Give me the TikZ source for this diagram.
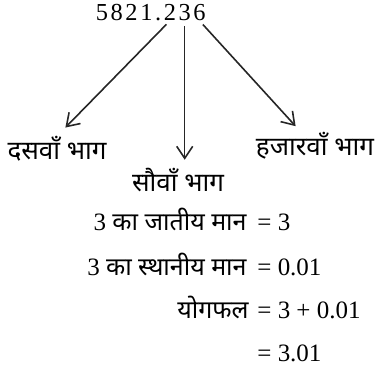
\documentclass[tikz,border=0pt]{standalone}
\usepackage{fontspec}
\setmainfont{Liberation Serif}
\newfontfamily\deva[Script=Devanagari]{Noto Sans}
\usetikzlibrary{positioning,arrows.meta}

\begin{document}
\begin{tikzpicture}[x=0.5pt, y=-0.5pt,
  digit/.style={inner sep=0pt, text height=8.4pt, text depth=0pt,
    font=\fontsize{12.2}{14}\selectfont},
  partlabel/.style={inner sep=0pt, font=\fontsize{13}{15}\selectfont\deva},
  eqside/.style={inner sep=0pt, font=\fontsize{12.5}{14}\selectfont},
  pointer/.style={-{Straight Barb[length=6pt,width=8pt]}, line width=0.8pt,
    black!85, shorten <=2.5pt}]
  \useasboundingbox (0,0) rectangle (376,374);
  % the number, one digit per node
  \node[digit] (thousands) at (102,12) {5};
  \node[digit, right=0.9pt of thousands] (hundreds) {8};
  \node[digit, right=0.9pt of hundreds] (tens) {2};
  \node[digit, right=0.9pt of tens] (ones) {1};
  \node[digit, right=0.9pt of ones] (point) {.};
  \node[digit, right=0.9pt of point] (tenths) {2};
  \node[digit, right=0.9pt of tenths] (hundredths) {3};
  \node[digit, right=0.9pt of hundredths] (thousandths) {6};
  % place names
  \node[partlabel] (dasvan) at (57,149) {दसवाँ भाग};
  \node[partlabel] (sauvan) at (178,180) {सौवाँ भाग};
  \node[partlabel] (hajarvan) at (315,146) {हजारवाँ भाग};
  \draw[pointer, shorten >=6pt] (tenths.south) -- (dasvan.north);
  \draw[pointer, shorten >=4pt] (hundredths.south) -- (hundredths.south |- sauvan.north);
  \draw[pointer, shorten >=4pt] (thousandths.south) -- ([xshift=-7pt]hajarvan.north);
  % values
  \node[eqside, anchor=west] (rhsa) at (257,222) {= 3};
  \node[eqside, anchor=west] (rhsb) at (257,267) {= 0.01};
  \node[eqside, anchor=west] (rhsc) at (257,310) {= 3 + 0.01};
  \node[eqside, anchor=west] (rhsd) at (257,353) {= 3.01};
  \node[eqside, base left=5pt of rhsa] (lhsa) {3 {\deva का जातीय मान}};
  \node[eqside, base left=5pt of rhsb] (lhsb) {3 {\deva का स्थानीय मान}};
  \node[eqside, base left=4pt of rhsc] (lhsc) {{\deva योगफल}};
\end{tikzpicture}
\end{document}
